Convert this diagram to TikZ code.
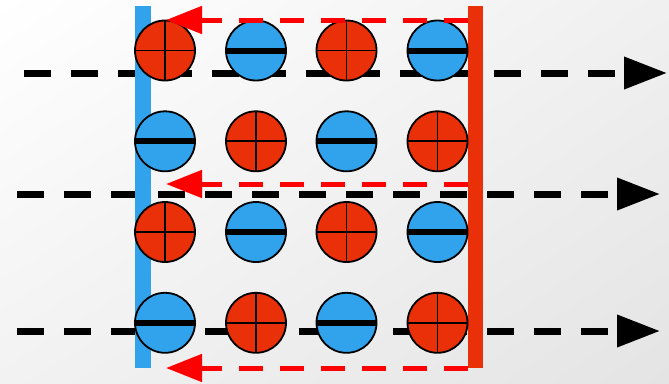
\documentclass[tikz,border=0pt]{standalone}
\usetikzlibrary{arrows.meta,shadings}
\definecolor{cred}{RGB}{233,48,8}
\definecolor{cblue}{RGB}{48,163,236}
\definecolor{bgA}{RGB}{255,255,255}
\definecolor{bgB}{RGB}{242,242,242}
\definecolor{bgC}{RGB}{240,240,240}
\definecolor{bgD}{RGB}{228,228,228}
\tikzset{
  charge/.style={circle, draw=black, line width=1.8pt, minimum size=60pt, inner sep=0pt},
  pluscharge/.style={charge, fill=cred, path picture={
      \draw[line width=1.8pt] (path picture bounding box.west) -- (path picture bounding box.east);
      \draw[line width=1.8pt] (path picture bounding box.north) -- (path picture bounding box.south);}},
  minuscharge/.style={charge, fill=cblue, path picture={
      \draw[line width=6pt] (path picture bounding box.west) -- (path picture bounding box.east);}},
  fieldline/.style={draw=black, line width=7pt, dash pattern=on 27pt off 20pt,
      -{Triangle[length=43pt,width=31pt]}},
  currentline/.style={draw=red, line width=5pt, dash pattern=on 24pt off 17pt,
      -{Triangle[length=36pt,width=27pt]}},
  plate/.style={inner sep=0pt, minimum width=16pt, minimum height=362pt}
}
\begin{document}
\begin{tikzpicture}[x=1pt,y=-1pt]
\useasboundingbox (0,0) rectangle (669,383);
\shade[upper left=bgA, upper right=bgC, lower left=bgB, lower right=bgD] (0,0) rectangle (669,383);
% field line end points
\coordinate (f1s) at (24,73);  \coordinate (f1e) at (667,73);
\coordinate (f2s) at (17,194); \coordinate (f2e) at (660,194);
\coordinate (f3s) at (17,331); \coordinate (f3e) at (660,331);
\draw[fieldline] (f1s) -- (f1e);
\draw[fieldline] (f2s) -- (f2e);
\draw[fieldline] (f3s) -- (f3e);
% plates
\node[plate, fill=cblue] (bplate) at (143,187) {};
\node[plate, fill=cred, minimum width=15pt] (rplate) at (475.5,187) {};
% charges
\node[pluscharge]  (c11) at (165,50.5) {};
\node[minuscharge] (c12) at (256,50.5) {};
\node[pluscharge]  (c13) at (346.5,50.5) {};
\node[minuscharge] (c14) at (437.5,50.5) {};
\node[minuscharge] (c21) at (165,141.3) {};
\node[pluscharge]  (c22) at (256,141.3) {};
\node[minuscharge] (c23) at (346.5,141.3) {};
\node[pluscharge]  (c24) at (437.5,141.3) {};
\node[pluscharge]  (c31) at (165,232) {};
\node[minuscharge] (c32) at (256,232) {};
\node[pluscharge]  (c33) at (346.5,232) {};
\node[minuscharge] (c34) at (437.5,232) {};
\node[minuscharge] (c41) at (165,322.8) {};
\node[pluscharge]  (c42) at (256,322.8) {};
\node[minuscharge] (c43) at (346.5,322.8) {};
\node[pluscharge]  (c44) at (437.5,322.8) {};
% current arrows
\coordinate (r1s) at (468,20);  \coordinate (r1e) at (166,20);
\coordinate (r2s) at (468,184); \coordinate (r2e) at (166,184);
\coordinate (r3s) at (468,368); \coordinate (r3e) at (166,368);
\draw[currentline] (r1s) -- (r1e);
\draw[currentline] (r2s) -- (r2e);
\draw[currentline] (r3s) -- (r3e);
\end{tikzpicture}
\end{document}
